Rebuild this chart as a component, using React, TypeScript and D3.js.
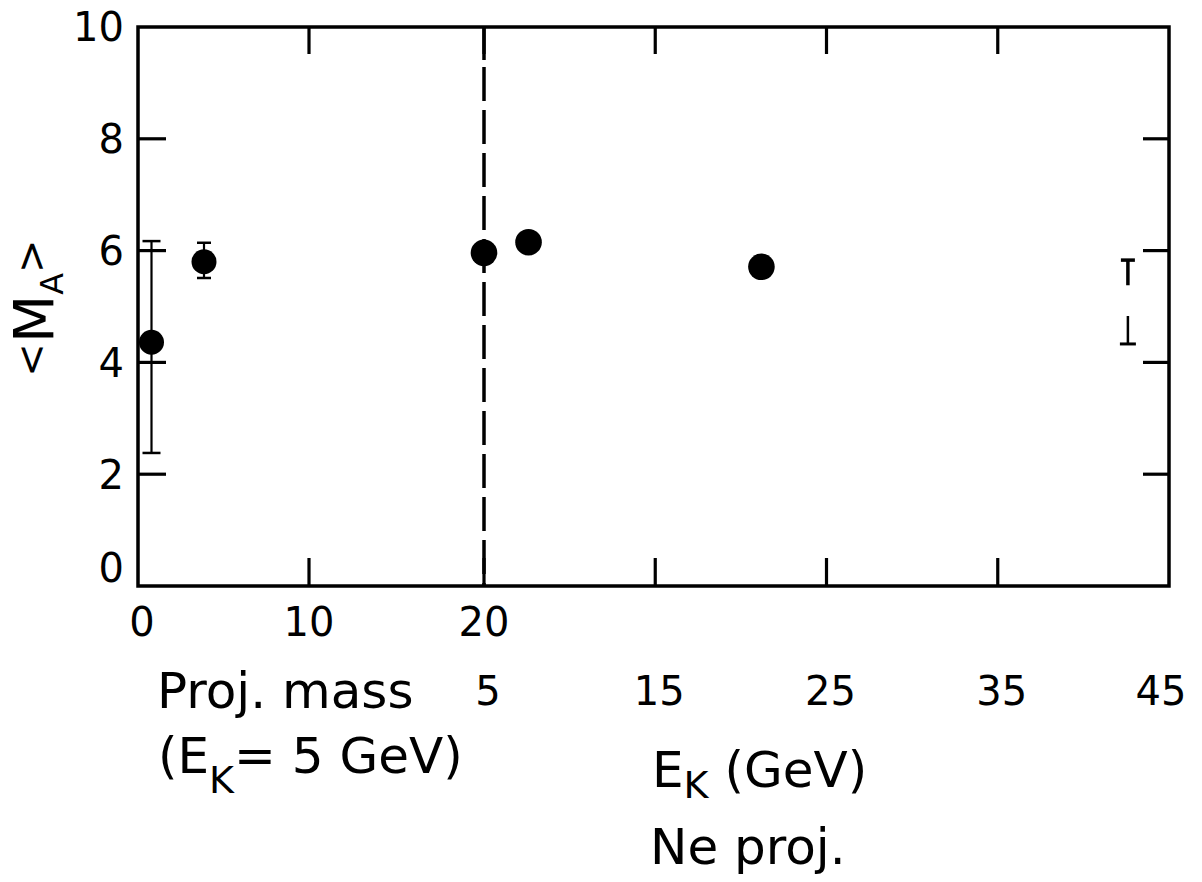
import React from "react";
import * as d3 from "d3";

// ---- data ----
const yTicks = [0, 2, 4, 6, 8, 10];
const yInnerTicks = [2, 4, 6, 8];
const massTickLabels = [0, 10, 20];
const massInnerTicks = [10, 20];
const energyTickLabels = [5, 15, 25, 35, 45];
const energyInnerTicks = [15, 25, 35];

// projectile-mass series (E_K = 5 GeV): p, alpha
const massPoints = [
  { a: 1, m: 4.36, lo: 2.38, hi: 6.17 },
  { a: 4, m: 5.8, lo: 5.51, hi: 6.14 },
];
// Ne projectile series vs kinetic energy
const nePoints = [
  { e: 5, m: 5.96 },
  { e: 7.6, m: 6.15 },
  { e: 21.2, m: 5.71 },
];
// representative (systematic) error bar at right
const sysBar = { e: 42.6, lo: 4.33, hi: 5.83, gapLo: 4.83, gapHi: 5.38 };
const dividerMass = 20;

const W = 1202;
const H = 882;
const L = 138, R = 1169, T = 27, B = 586;
const FONT = "'DejaVu Sans', sans-serif";

export default function App() {
  const y = d3.scaleLinear().domain([0, 10]).range([B, T]);
  const xm = d3.scaleLinear().domain([0, 20]).range([134, 484]);
  const xe = d3.scaleLinear().domain([5, 45]).range([484, R]);
  const tickLen = 28;
  const xDiv = xm(dividerMass);

  const xTickPositions = [
    ...massInnerTicks.map((v) => xm(v)),
    ...energyInnerTicks.map((v) => xe(v)),
  ];

  return (
    <svg
      width={W}
      height={H}
      style={{ position: "absolute", left: 0, top: 0, background: "#fff" }}
      fontFamily={FONT}
    >
      <rect x={0} y={0} width={W} height={H} fill="#fff" />
      {/* frame */}
      <rect x={L} y={T} width={R - L} height={B - T} fill="none" stroke="#000" strokeWidth={3.5} />
      {/* y ticks (left and right, inside) */}
      {yInnerTicks.map((v) => (
        <g key={"yt" + v}>
          <line x1={L} x2={L + tickLen} y1={y(v)} y2={y(v)} stroke="#000" strokeWidth={3.2} />
          <line x1={R} x2={R - 26} y1={y(v)} y2={y(v)} stroke="#000" strokeWidth={3.2} />
        </g>
      ))}
      {/* x ticks (top and bottom, inside) */}
      {xTickPositions.map((px, i) => (
        <g key={"xt" + i}>
          <line x1={px} x2={px} y1={B} y2={B - tickLen} stroke="#000" strokeWidth={3.2} />
          <line x1={px} x2={px} y1={T} y2={T + 27} stroke="#000" strokeWidth={3.2} />
        </g>
      ))}
      {/* dashed divider */}
      <line x1={xDiv} x2={xDiv} y1={T} y2={T + 33} stroke="#000" strokeWidth={3.5} />
      <line
        x1={xDiv}
        x2={xDiv}
        y1={T + 40}
        y2={B}
        stroke="#000"
        strokeWidth={3.5}
        strokeDasharray="34 9"
      />
      {/* y tick labels */}
      {yTicks.map((v) => (
        <text
          key={"yl" + v}
          x={124}
          y={y(v) + (v === 0 ? -18 : 0)}
          dy="0.36em"
          textAnchor="end"
          fontSize={40}
        >
          {v}
        </text>
      ))}
      {/* proj mass tick labels */}
      {massTickLabels.map((v) => (
        <text key={"ml" + v} x={xm(v) + (v === 0 ? 8 : 0)} y={636} textAnchor="middle" fontSize={40}>
          {v}
        </text>
      ))}
      {/* energy tick labels */}
      {energyTickLabels.map((v) => (
        <text key={"el" + v} x={xe(v) + (v === 45 ? -8 : 4)} y={705} textAnchor="middle" fontSize={40}>
          {v}
        </text>
      ))}
      {/* mass series error bars + points */}
      {massPoints.map((p, i) => {
        const cx = xm(p.a);
        const cw = i === 0 ? 9 : 7;
        return (
          <g key={"mp" + i}>
            <line x1={cx} x2={cx} y1={y(p.lo)} y2={y(p.hi)} stroke="#000" strokeWidth={2.2} />
            <line x1={cx - cw} x2={cx + cw} y1={y(p.lo)} y2={y(p.lo)} stroke="#000" strokeWidth={2.5} />
            <line x1={cx - cw} x2={cx + cw} y1={y(p.hi)} y2={y(p.hi)} stroke="#000" strokeWidth={2.5} />
            <circle cx={cx} cy={y(p.m)} r={12.5} fill="#000" />
          </g>
        );
      })}
      {/* Ne series points */}
      {nePoints.map((p, i) => (
        <circle key={"np" + i} cx={xe(p.e)} cy={y(p.m)} r={13.3} fill="#000" />
      ))}
      {/* systematic error bar */}
      <g>
        <line x1={xe(sysBar.e)} x2={xe(sysBar.e)} y1={y(sysBar.hi)} y2={y(sysBar.gapHi)} stroke="#000" strokeWidth={3.5} />
        <line x1={xe(sysBar.e)} x2={xe(sysBar.e)} y1={y(sysBar.gapLo)} y2={y(sysBar.lo)} stroke="#000" strokeWidth={2.5} />
        <line x1={xe(sysBar.e) - 7} x2={xe(sysBar.e) + 7} y1={y(sysBar.hi)} y2={y(sysBar.hi)} stroke="#000" strokeWidth={3.5} />
        <line x1={xe(sysBar.e) - 8} x2={xe(sysBar.e) + 8} y1={y(sysBar.lo)} y2={y(sysBar.lo)} stroke="#000" strokeWidth={3} />
      </g>
      {/* y axis label */}
      <text transform="translate(53,308) rotate(-90)" textAnchor="middle" fontSize={56}>
        <tspan fontSize={40} dy={-8}>{"<"}</tspan>
        <tspan dy={8}>M</tspan>
        <tspan fontSize={32} dy={10}>A</tspan>
        <tspan fontSize={40} dy={-18}>{">"}</tspan>
      </text>
      {/* axis titles */}
      <text x={157} y={708} fontSize={50}>Proj. mass</text>
      <text x={158} y={773} fontSize={50}>
        <tspan>(E</tspan>
        <tspan fontSize={38} dy={20}>K</tspan>
        <tspan dy={-20}>{"= 5 GeV)"}</tspan>
      </text>
      <text x={652} y={787} fontSize={50}>
        <tspan>E</tspan>
        <tspan fontSize={38} dy={11}>K</tspan>
        <tspan dy={-11}>{" (GeV)"}</tspan>
      </text>
      <text x={650} y={864} fontSize={50}>Ne proj.</text>
    </svg>
  );
}
